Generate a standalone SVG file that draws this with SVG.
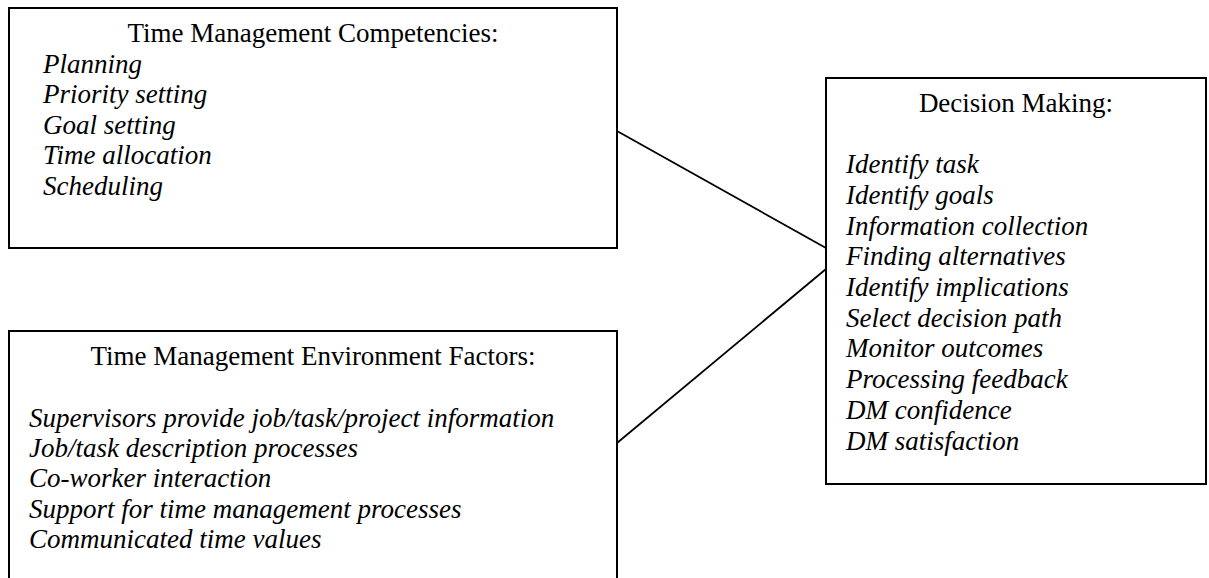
<svg xmlns="http://www.w3.org/2000/svg" width="1209" height="578" viewBox="0 0 1209 578">
<style>
.box{fill:#fff;stroke:#000;stroke-width:2}
.t{font-family:"Liberation Serif","Times New Roman",serif;font-size:27px;fill:#000}
.h{text-anchor:middle}
.i{font-style:italic}
.c{stroke:#000;stroke-width:1.8;fill:none}
</style>
<rect width="1209" height="578" fill="#fff"/>
<g id="connectors">
<line class="c" x1="617" y1="131" x2="826" y2="248"/>
<line class="c" x1="617" y1="443" x2="826" y2="269"/>
</g>
<g id="competencies">
<rect class="box" x="9" y="8" width="608" height="240"/>
<text class="t h" x="313" y="42">Time Management Competencies:</text>
<text class="t i" x="43" y="73">Planning</text>
<text class="t i" x="43" y="103">Priority setting</text>
<text class="t i" x="43" y="134">Goal setting</text>
<text class="t i" x="43" y="164">Time allocation</text>
<text class="t i" x="43" y="195">Scheduling</text>
</g>
<g id="environment">
<rect class="box" x="9" y="331" width="608" height="260"/>
<text class="t h" x="313" y="365">Time Management Environment Factors:</text>
<text class="t i" x="29" y="427">Supervisors provide job/task/project information</text>
<text class="t i" x="29" y="457">Job/task description processes</text>
<text class="t i" x="29" y="487">Co-worker interaction</text>
<text class="t i" x="29" y="518">Support for time management processes</text>
<text class="t i" x="29" y="548">Communicated time values</text>
</g>
<g id="decision">
<rect class="box" x="826" y="78" width="380" height="406"/>
<text class="t h" x="1016" y="112">Decision Making:</text>
<text class="t i" x="846" y="173">Identify task</text>
<text class="t i" x="846" y="204">Identify goals</text>
<text class="t i" x="846" y="235">Information collection</text>
<text class="t i" x="846" y="265">Finding alternatives</text>
<text class="t i" x="846" y="296">Identify implications</text>
<text class="t i" x="846" y="327">Select decision path</text>
<text class="t i" x="846" y="357">Monitor outcomes</text>
<text class="t i" x="846" y="388">Processing feedback</text>
<text class="t i" x="846" y="419">DM confidence</text>
<text class="t i" x="846" y="450">DM satisfaction</text>
</g>
</svg>
